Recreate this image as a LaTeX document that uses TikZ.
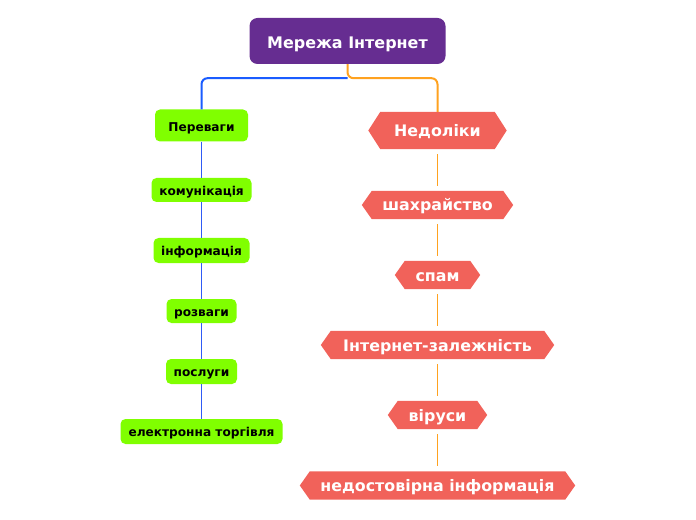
\documentclass[tikz,border=0pt]{standalone}
\usepackage{fontspec}
\setmainfont{DejaVu Sans}
\usetikzlibrary{backgrounds}
\definecolor{rootc}{HTML}{662D91}
\definecolor{greenc}{HTML}{80FF00}
\definecolor{redc}{HTML}{F1625A}
\definecolor{bluec}{HTML}{1A5CFF}
\definecolor{thinblue}{HTML}{2F5BF5}
\definecolor{orangec}{HTML}{FFA21F}
\begin{document}
\begin{tikzpicture}[x=1bp,y=-1bp,
  rootbox/.style={fill=rootc, rounded corners=8bp, text=white, font=\fontsize{16}{19}\selectfont\bfseries, inner sep=0pt, minimum width=196bp, minimum height=46bp, text height=14.4bp, text depth=0pt},
  probox/.style={fill=greenc, rounded corners=5bp, text=black, font=\fontsize{12.2}{14}\selectfont\bfseries, inner sep=0pt, minimum height=25bp, text height=10.5bp, text depth=0pt},
  conbox/.style={text=white, font=\fontsize{15.9}{18}\selectfont\bfseries, inner sep=0pt, minimum height=28bp, text height=12bp, text depth=0pt},
  mainline/.style={line width=2bp, rounded corners=6bp}]
\useasboundingbox (0,0) rectangle (696,520);

\node[rootbox] (root) at (347.5,41) {Мережа Інтернет};

\node[probox, minimum width=93bp, minimum height=32bp, text height=12bp] (p0) at (201.5,125.5) {Переваги};
\node[probox, minimum width=100bp, minimum height=24bp] (p1) at (201.5,190) {комунікація};
\node[probox, minimum width=96bp] (p2) at (201.5,250.5) {інформація};
\node[probox, minimum width=70bp, minimum height=24bp] (p3) at (201.5,311) {розваги};
\node[probox, minimum width=71bp] (p4) at (201.5,371.5) {послуги};
\node[probox, minimum width=162bp] (p5) at (201.5,431.5) {електронна торгівля};

\node[conbox, minimum width=114bp, minimum height=37bp, text height=13bp] (c0) at (437.5,130.5) {Недоліки};
\node[conbox, minimum width=131bp] (c1) at (437.5,205) {шахрайство};
\node[conbox, minimum width=65bp] (c2) at (437.5,275) {спам};
\node[conbox, minimum width=213bp] (c3) at (437.5,345) {Інтернет-залежність};
\node[conbox, minimum width=79bp] (c4) at (437.5,415) {віруси};
\node[conbox, minimum width=255bp] (c5) at (437.5,485.5) {недостовірна інформація};

\begin{scope}[on background layer]
  \fill[redc] (c0.north west) -- (c0.north east) -- ([xshift=12bp]c0.east) -- (c0.south east) -- (c0.south west) -- ([xshift=-12bp]c0.west) -- cycle;
  \foreach \n in {c1,c2,c3,c4,c5}
    \fill[redc] (\n.north west) -- (\n.north east) -- ([xshift=10bp]\n.east) -- (\n.south east) -- (\n.south west) -- ([xshift=-10bp]\n.west) -- cycle;
\end{scope}

\coordinate (split) at ([yshift=-14bp]root.south);
\draw[mainline, bluec] (split) -| (p0.north);
\draw[mainline, orangec] (root.south) -- (split) -| (c0.north);

\draw[thinblue, line width=1.6bp] (p0.south) -- (p1.north);
\draw[thinblue, line width=1.6bp] (p1.south) -- (p2.north);
\draw[thinblue, line width=1.6bp] (p2.south) -- (p3.north);
\draw[thinblue, line width=1.6bp] (p3.south) -- (p4.north);
\draw[thinblue, line width=1.6bp] (p4.south) -- (p5.north);

\draw[orangec, line width=1.6bp] ([yshift=-5bp]c0.south) -- ([yshift=5bp]c1.north);
\draw[orangec, line width=1.6bp] ([yshift=-5bp]c1.south) -- ([yshift=5bp]c2.north);
\draw[orangec, line width=1.6bp] ([yshift=-5bp]c2.south) -- ([yshift=5bp]c3.north);
\draw[orangec, line width=1.6bp] ([yshift=-5bp]c3.south) -- ([yshift=5bp]c4.north);
\draw[orangec, line width=1.6bp] ([yshift=-5bp]c4.south) -- ([yshift=5bp]c5.north);
\end{tikzpicture}
\end{document}
